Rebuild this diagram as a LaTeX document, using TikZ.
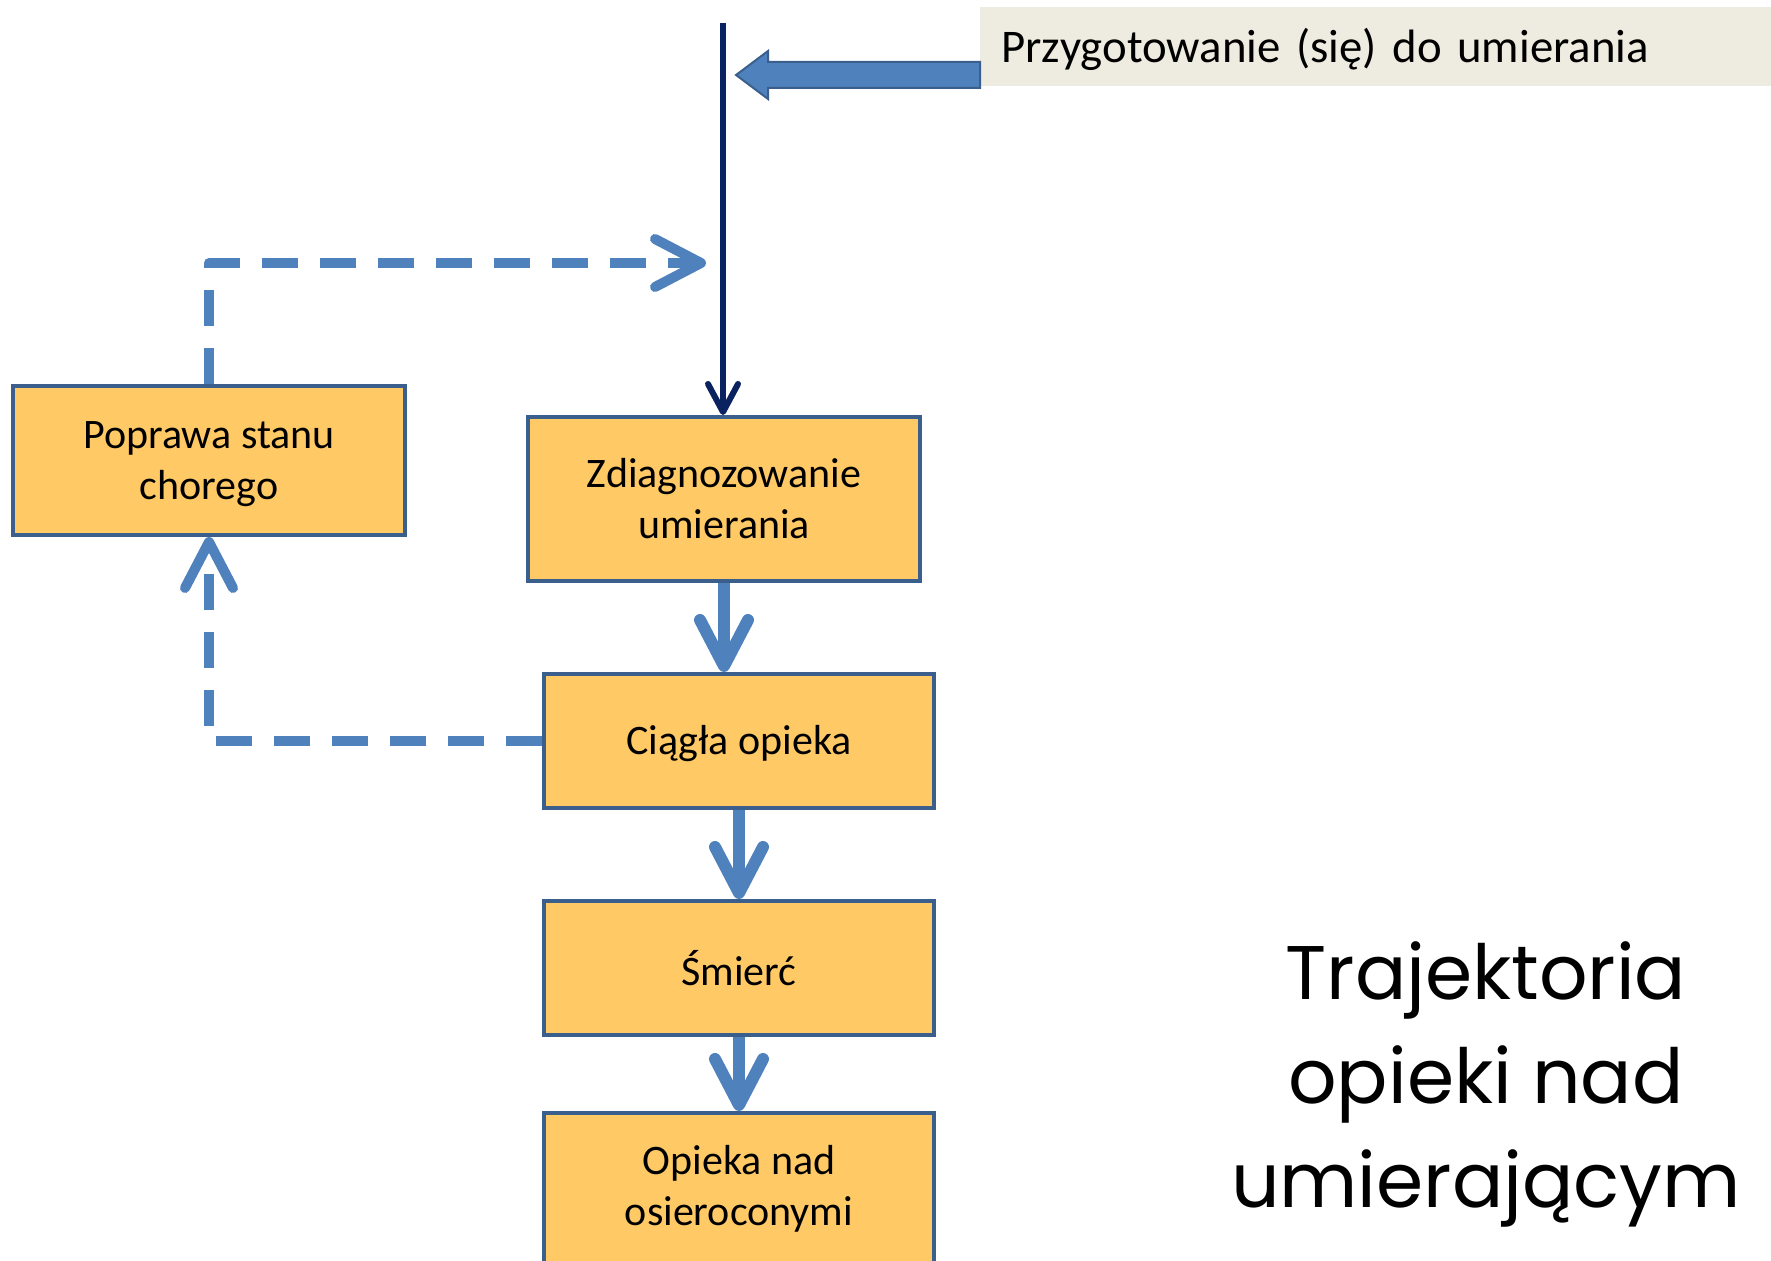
\documentclass[tikz,border=0pt]{standalone}
\usepackage{fontspec}
\setmainfont{Carlito}
\newfontfamily\titlefont{Poppins}
\usepackage{tikz}
\usetikzlibrary{arrows.meta,positioning}
\definecolor{boxfill}{HTML}{FFCA66}
\definecolor{boxedge}{HTML}{3A5F8C}
\definecolor{arrowblue}{HTML}{4F81BD}
\definecolor{navyline}{HTML}{0B2260}
\definecolor{beige}{HTML}{EEECE1}
\tikzset{
    %Define standard arrow tip
    >={Straight Barb[length=23pt,width=24pt,round]},
    %Define style for boxes
    krok/.style={
           rectangle,
           draw=boxedge, line width=2pt,
           fill=boxfill,
           minimum width=195pt,
           align=center,
           font=\fontsize{21}{25.5}\selectfont},
    etykieta/.style={
           rectangle,
           fill=beige,
           minimum height=39.5pt,
           text width=374.5pt,
           text depth=1pt,
           inner xsep=10.5pt,
           align=left,
           font=\fontsize{23.4}{27}\selectfont},
    % Define arrow styles
    pil/.style={
           ->,
           draw=arrowblue,
           line width=6pt},
    przer/.style={
           ->,
           draw=arrowblue,
           line width=5pt,
           line join=round,
           dash pattern=on 18pt off 11pt},
    cienka/.style={
           -{Straight Barb[length=14pt,width=15pt,round]},
           draw=navyline,
           line width=3pt},
    blok/.style={
           draw=boxedge, fill=arrowblue,
           line width=1pt}
}
\begin{document}
\begin{tikzpicture}[x=0.5pt,y=-0.5pt]
\useasboundingbox (0,0) rectangle (1771,1261);
 %nodes
\node[krok, minimum width=196pt, minimum height=82pt] (1) at (724,499) {Zdiagnozowanie\\umierania};
\node[krok, minimum width=196pt, minimum height=74.5pt, text depth=0pt] (2) at (209,460.5) {Poprawa stanu\\chorego};
\node[krok, minimum height=67pt, text depth=1pt, below=44.5pt of 1, xshift=7.5pt] (3) {Ciągła opieka};
\node[krok, minimum height=67pt, below=44.5pt of 3] (4) {Śmierć};
\node[krok, minimum height=76pt, below=37pt of 4] (5) {Opieka nad\\osieroconymi};
\node[etykieta, anchor=west] (pz) at (980,46.5) {Przygotowanie (się) do umierania};
\node[font=\titlefont\fontsize{38}{52}\selectfont, align=center] (tytul) at (1486,1084) {Trajektoria\\opieki nad\\umierającym};
\coordinate (top) at (723,23);
\coordinate (back) at (706,263);
 %arrows
\draw[cienka] (top) -- (top |- 1.north);
\draw[blok] (736,75) -- (768,51) -- (768,62) -- (pz.west |- 0,62) -- (pz.west |- 0,88) -- (768,88) -- (768,99) -- cycle;
\draw[pil] (1.south) -- (1.south |- 3.north);
\draw[pil] (3.south) -- (4.north);
\draw[pil] (4.south) -- (5.north);
\draw[przer] (2.north) |- (back);
\draw[przer] (3.west) -| (2.south);
\end{tikzpicture}
\end{document}
